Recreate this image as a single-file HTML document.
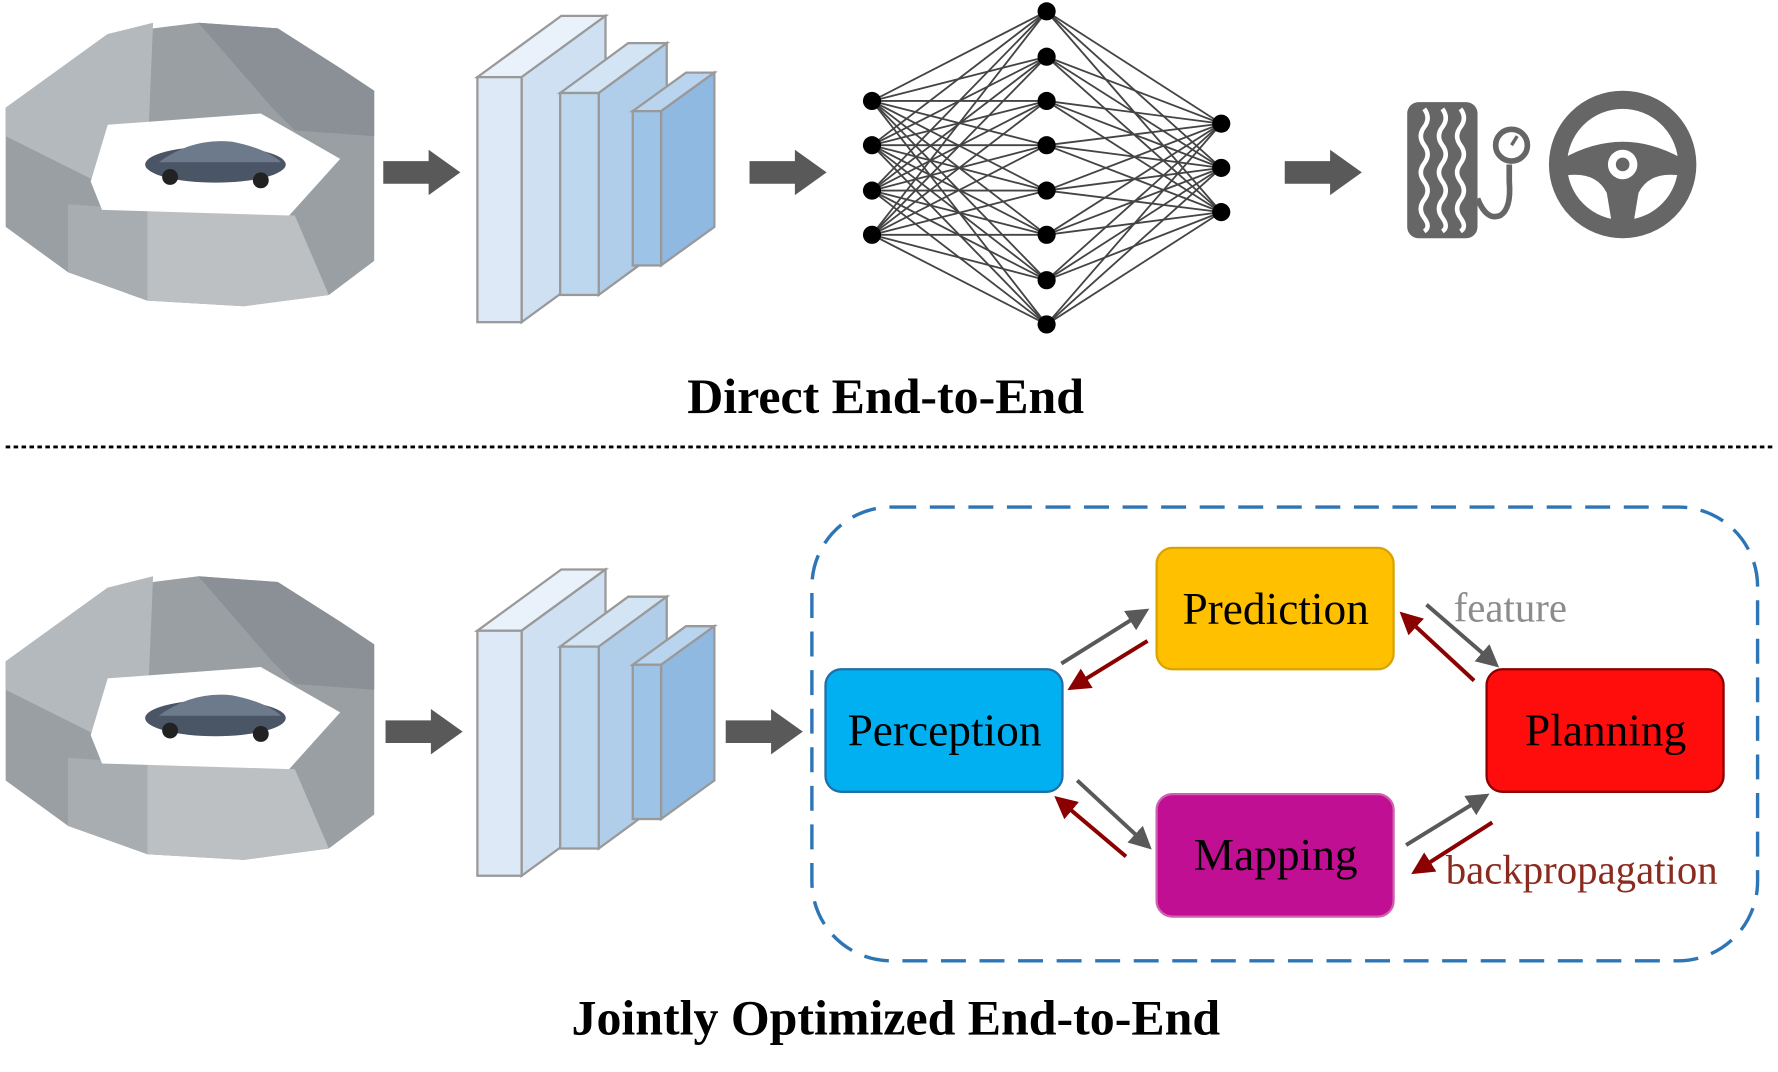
<!DOCTYPE html>
<html><head><meta charset="utf-8"><style>html,body{margin:0;padding:0;background:#fff}svg{display:block}</style></head>
<body>
<svg width="1778" height="1072" viewBox="0 0 1568 945" preserveAspectRatio="none" xmlns="http://www.w3.org/2000/svg" font-family="Liberation Serif, serif">
<defs>
<g id="pano">
  <polygon points="5,95 95,30 175,20 245,25 300,60 330,80 330,230 290,260 215,270 130,265 60,240 5,200" fill="#9a9fa3"/>
  <polygon points="5,95 95,30 135,20 130,140 95,165 5,120" fill="#b4b9bd"/>
  <polygon points="175,20 245,25 300,60 330,80 330,120 260,115 240,95" fill="#8a9095"/>
  <polygon points="60,180 130,185 130,265 60,240" fill="#a8adb1"/>
  <polygon points="130,185 260,190 290,260 215,270 130,265" fill="#bcc0c3"/>
  <polygon points="80,160 95,110 230,100 300,140 255,190 90,185" fill="#ffffff"/>
  <ellipse cx="190" cy="145" rx="62" ry="16" fill="#4a5566"/>
  <path d="M140,143 Q170,121 205,125 Q235,131 248,143 Z" fill="#6d7a8c"/>
  <circle cx="150" cy="156" r="7" fill="#222"/><circle cx="230" cy="159" r="7" fill="#222"/>
</g>
<g id="cnn" stroke="#999" stroke-width="2">
  <polygon points="421,68 495,14 534,14 460,68" fill="#e9f1fa"/>
  <polygon points="460,68 534,14 534,230 460,284" fill="#cfe0f2"/>
  <rect x="421" y="68" width="39" height="216" fill="#dde9f6"/>
  <polygon points="494,82 554,38 588,38 528,82" fill="#d3e4f5"/>
  <polygon points="528,82 588,38 588,216 528,260" fill="#b0cdea"/>
  <rect x="494" y="82" width="34" height="178" fill="#bdd7ee"/>
  <polygon points="558,98 605,64 630,64 583,98" fill="#b9d4ee"/>
  <polygon points="583,98 630,64 630,200 583,234" fill="#90b9e2"/>
  <rect x="558" y="98" width="25" height="136" fill="#9dc3e6"/>
</g>
<polygon id="arr" points="0,-10 40,-10 40,-20 68,0 40,20 40,10 0,10" fill="#595959"/>
</defs>

<use href="#pano"/>
<use href="#pano" transform="translate(0,488)"/>
<use href="#cnn"/>
<use href="#cnn" transform="translate(0,488)"/>

<use href="#arr" x="338" y="152"/>
<use href="#arr" x="661" y="152"/>
<use href="#arr" x="1133" y="152"/>
<use href="#arr" x="340" y="645"/>
<use href="#arr" x="640" y="645"/>

<g stroke="#444" stroke-width="1.6" id="lines"></g>
<script>
(function(){
var ns="http://www.w3.org/2000/svg",g=document.getElementById("lines");
var L1=[89,128,168,207],L2=[10,50,89,128,168,207,247,286],L3=[109,148,187];
function ln(x1,y1,x2,y2){var l=document.createElementNS(ns,"line");l.setAttribute("x1",x1);l.setAttribute("y1",y1);l.setAttribute("x2",x2);l.setAttribute("y2",y2);g.appendChild(l);}
L1.forEach(function(a){L2.forEach(function(b){ln(769,a,923,b);});});
L2.forEach(function(a){L3.forEach(function(b){ln(923,a,1077,b);});});
function c(x,y){var e=document.createElementNS(ns,"circle");e.setAttribute("cx",x);e.setAttribute("cy",y);e.setAttribute("r",8);e.setAttribute("fill","#000");e.setAttribute("stroke","none");g.appendChild(e);}
L1.forEach(function(y){c(769,y)});L2.forEach(function(y){c(923,y)});L3.forEach(function(y){c(1077,y)});
})();
</script>

<g fill="#666">
<rect x="1241" y="90" width="62" height="120" rx="10"/>
<g stroke="#fff" stroke-width="4" fill="none">
<path d="M1256,96 q6,8 0,16 q-6,8 0,16 q6,8 0,16 q-6,8 0,16 q6,8 0,16 q-6,8 0,16 q6,8 0,12"/>
<path d="M1272,96 q6,8 0,16 q-6,8 0,16 q6,8 0,16 q-6,8 0,16 q6,8 0,16 q-6,8 0,16 q6,8 0,12"/>
<path d="M1288,96 q6,8 0,16 q-6,8 0,16 q6,8 0,16 q-6,8 0,16 q6,8 0,16 q-6,8 0,16 q6,8 0,12"/>
</g>
<path d="M1303,175 q8,20 20,15 q10,-6 8,-30 l0,-15" stroke="#666" stroke-width="5" fill="none"/>
<circle cx="1333" cy="128" r="14" fill="none" stroke="#666" stroke-width="5"/>
<line x1="1333" y1="128" x2="1338" y2="120" stroke="#666" stroke-width="3"/>
</g>
<g>
<circle cx="1431" cy="145" r="57" fill="none" stroke="#666" stroke-width="16"/>
<path d="M1378,140 Q1431,110 1484,140 L1484,155 Q1455,150 1445,170 L1440,200 L1422,200 L1417,170 Q1407,150 1378,155 Z" fill="#666"/>
<circle cx="1431" cy="145" r="13" fill="#fff"/>
<circle cx="1431" cy="145" r="6" fill="#666"/>
</g>

<text x="781" y="364" font-size="44" font-weight="bold" text-anchor="middle" fill="#000">Direct End-to-End</text>
<line x1="5" y1="394" x2="1563" y2="394" stroke="#000" stroke-width="2.5" stroke-dasharray="4,3"/>

<rect x="716" y="447" width="834" height="400" rx="70" fill="none" stroke="#2e75b6" stroke-width="3" stroke-dasharray="22,12"/>

<rect x="1020" y="483" width="209" height="107" rx="14" fill="#ffc000" stroke="#d9a400" stroke-width="2"/>
<rect x="728" y="590" width="209" height="108" rx="14" fill="#00b0f0" stroke="#1f6fa8" stroke-width="2"/>
<rect x="1311" y="590" width="209" height="108" rx="14" fill="#ff0d0d" stroke="#8b0000" stroke-width="2"/>
<rect x="1020" y="700" width="209" height="108" rx="14" fill="#c00f93" stroke="#d060b0" stroke-width="2"/>
<g font-size="40" text-anchor="middle" fill="#000">
<text x="1125" y="550">Prediction</text>
<text x="833" y="657">Perception</text>
<text x="1416" y="657">Planning</text>
<text x="1125" y="767">Mapping</text>
</g>

<defs>
<marker id="mg" markerWidth="20" markerHeight="20" refX="2" refY="5" orient="auto" markerUnits="userSpaceOnUse" viewBox="0 0 10 10"><path d="M0,0 L10,5 L0,10 Z" fill="#595959"/></marker>
<marker id="mr" markerWidth="20" markerHeight="20" refX="2" refY="5" orient="auto" markerUnits="userSpaceOnUse" viewBox="0 0 10 10"><path d="M0,0 L10,5 L0,10 Z" fill="#8b0000"/></marker>
</defs>
<g stroke-width="3.5" fill="none">
<line x1="936" y1="585" x2="1000" y2="545" stroke="#595959" marker-end="url(#mg)"/>
<line x1="1012" y1="565" x2="955" y2="600" stroke="#8b0000" marker-end="url(#mr)"/>
<line x1="1258" y1="533" x2="1310" y2="578" stroke="#595959" marker-end="url(#mg)"/>
<line x1="1300" y1="600" x2="1246" y2="550" stroke="#8b0000" marker-end="url(#mr)"/>
<line x1="950" y1="688" x2="1004" y2="738" stroke="#595959" marker-end="url(#mg)"/>
<line x1="993" y1="755" x2="942" y2="712" stroke="#8b0000" marker-end="url(#mr)"/>
<line x1="1240" y1="745" x2="1300" y2="708" stroke="#595959" marker-end="url(#mg)"/>
<line x1="1316" y1="725" x2="1258" y2="762" stroke="#8b0000" marker-end="url(#mr)"/>
</g>
<text x="1282" y="548" font-size="36" fill="#8c8c8c">feature</text>
<text x="1275" y="779" font-size="36" fill="#8b2a1e">backpropagation</text>

<text x="790" y="912" font-size="44" font-weight="bold" text-anchor="middle" fill="#000">Jointly Optimized End-to-End</text>
</svg>
</body></html>
